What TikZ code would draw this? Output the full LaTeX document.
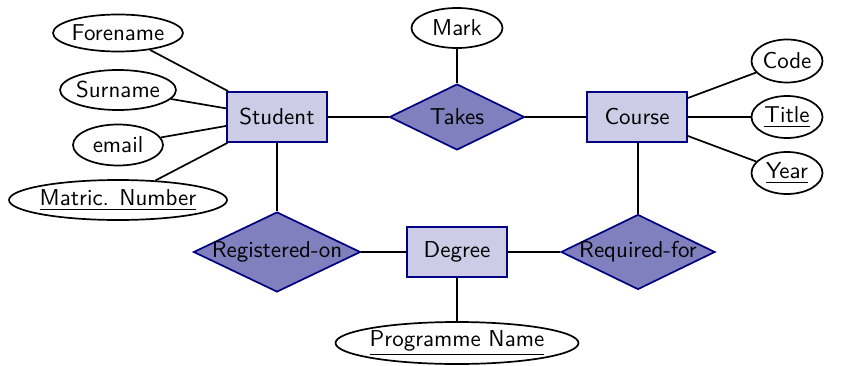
\documentclass[tikz,border=0pt]{standalone}
\usepackage{fontspec}
\usetikzlibrary{shapes.geometric}
\definecolor{ercol}{RGB}{0,0,128}
\newcommand\pxu{0.47pt}
\begin{document}
\begin{tikzpicture}[x=0.47pt,y=-0.47pt, font=\sffamily\fontsize{10.8}{13}\selectfont,
  entity/.style={draw=ercol, fill=ercol!20, thick, rectangle, minimum width=100*\pxu, minimum height=50*\pxu, inner sep=0pt},
  rel/.style={draw=ercol, fill=ercol!50, thick, diamond, inner sep=0pt},
  attr/.style={draw, thick, ellipse, inner sep=0pt},
  link/.style={thick}]
\useasboundingbox (0,0) rectangle (842,365);
% entities
\node[entity] (student) at (277,117) {Student};
\node[entity] (course) at (637,117) {Course};
\node[entity] (degree) at (457,252) {Degree};
% relationships
\node[rel, minimum width=135*\pxu, minimum height=66*\pxu] (takes) at (457,117) {\makebox[0pt]{Takes}};
\node[rel, minimum width=167*\pxu, minimum height=80*\pxu] (reg) at (277,252) {\makebox[0pt]{Registered-on}};
\node[rel, minimum width=154*\pxu, minimum height=75*\pxu] (req) at (638,252) {\makebox[0pt]{Required-for}};
% attributes
\node[attr, minimum width=130*\pxu, minimum height=37*\pxu] (fore) at (118,33) {\makebox[0pt]{Forename}};
\node[attr, minimum width=116*\pxu, minimum height=40*\pxu] (sur) at (118,90) {\makebox[0pt]{Surname}};
\node[attr, minimum width=90*\pxu, minimum height=41*\pxu] (email) at (118,145) {\makebox[0pt]{email}};
\node[attr, minimum width=218*\pxu, minimum height=40*\pxu] (matric) at (118,200) {\makebox[0pt]{\underline{Matric. Number}}};
\node[attr, minimum width=91*\pxu, minimum height=40*\pxu] (mark) at (457,28) {\makebox[0pt]{Mark}};
\node[attr, minimum width=71*\pxu, minimum height=43*\pxu] (code) at (787,61) {\makebox[0pt]{Code}};
\node[attr, minimum width=71*\pxu, minimum height=42*\pxu] (title) at (787,117) {\makebox[0pt]{\underline{Title}}};
\node[attr, minimum width=71*\pxu, minimum height=42*\pxu] (year) at (787,173) {\makebox[0pt]{\underline{Year}}};
\node[attr, minimum width=243*\pxu, minimum height=42*\pxu] (prog) at (457,343) {\makebox[0pt]{\underline{Programme Name}}};
% connectors
\draw[link] (fore) -- (student);
\draw[link] (sur) -- (student);
\draw[link] (email) -- (student);
\draw[link] (matric) -- (student);
\draw[link] (student) -- (takes);
\draw[link] (takes) -- (course);
\draw[link] (mark) -- (takes);
\draw[link] (course) -- (code);
\draw[link] (course) -- (title);
\draw[link] (course) -- (year);
\draw[link] (student) -- (reg);
\draw[link] (reg) -- (degree);
\draw[link] (degree) -- (req);
\draw[link] (req.north) -- (req.north |- course.south);
\draw[link] (degree) -- (prog);
\end{tikzpicture}
\end{document}
